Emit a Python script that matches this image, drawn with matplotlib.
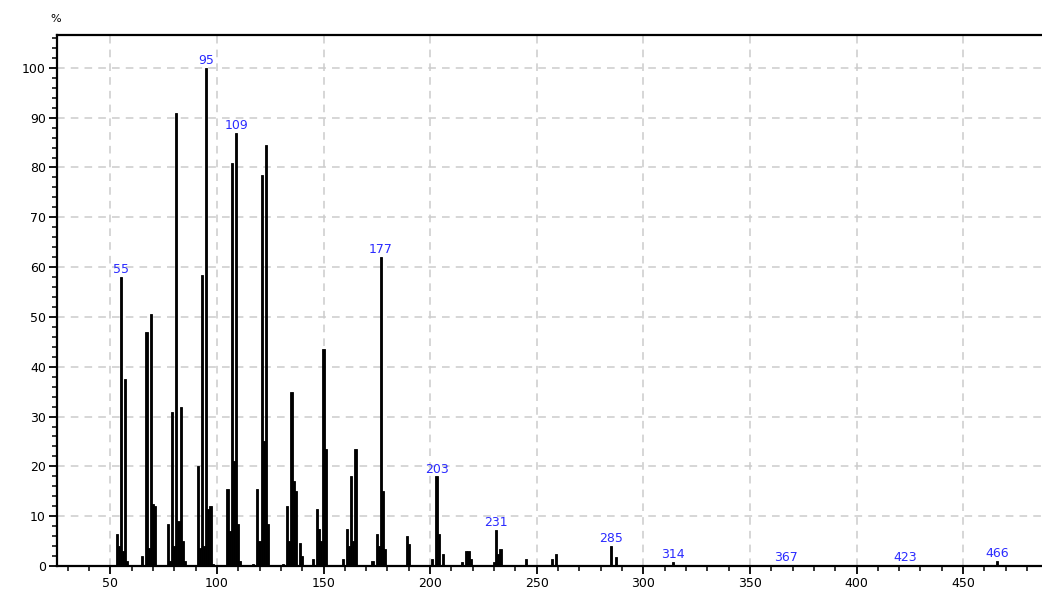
import matplotlib.pyplot as plt
from matplotlib.ticker import MultipleLocator

# m/z and relative intensity (%)
mz = [53, 54, 55, 56, 57, 58, 65, 67, 68, 69, 70, 71, 77, 78, 79, 80, 81, 82, 83, 84, 85,
      91, 92, 93, 94, 95, 96, 97, 98, 105, 106, 107, 108, 109, 110, 111, 117,
      119, 120, 121, 122, 123, 124, 131, 133, 134, 135, 136, 137, 139, 140, 145,
      147, 148, 149, 150, 151, 159, 161, 162, 163, 164, 165, 173, 175, 176, 177,
      178, 179, 189, 190, 201, 203, 204, 206, 215, 217, 218, 219, 230, 231, 232,
      233, 245, 257, 259, 285, 287, 314, 367, 423, 466]
intensity = [6.5, 4, 58, 3, 37.5, 1, 2, 47, 3.7, 50.5, 12.5, 12, 8.5, 1, 31, 4, 91, 9, 32, 5, 1,
             20, 3.7, 58.5, 4, 100, 11.5, 12, 0.5, 15.5, 7, 81, 21, 87, 8.5, 1, 0.5,
             15.5, 5, 78.5, 25, 84.5, 8.5, 0.5, 12, 5, 35, 17, 15, 4.6, 2, 1.5,
             11.5, 7.5, 5, 43.5, 23.5, 1.5, 7.5, 4, 18, 5, 23.5, 1, 6.5, 4, 62,
             15, 3.5, 6, 4.5, 1.5, 18, 6.5, 2.4, 0.8, 3, 3, 1.5, 0.8, 7.2, 2.4,
             3.4, 1.4, 1.4, 2.4, 4, 1.8, 0.8, 0.3, 0.3, 1.0]
label_mz = [55, 95, 109, 177, 203, 231, 285, 314, 367, 423, 466]

fig = plt.figure(figsize=(10.42, 6.01), dpi=100)
ax = fig.add_axes([0.0547, 0.0582, 0.9453, 0.8836])

ax.bar(mz, intensity, width=1.0, color='black', edgecolor='black', linewidth=0.6, zorder=3)

for m in label_mz:
    h = intensity[mz.index(m)]
    ax.annotate(str(m), (m, h), xytext=(0, 0.5), textcoords='offset points',
                ha='center', va='bottom', color='#2b2bff', fontsize=9, zorder=4)

ax.set_xlim(25, 487)
ax.set_ylim(0, 106.6)
ax.xaxis.set_major_locator(MultipleLocator(50))
ax.xaxis.set_minor_locator(MultipleLocator(10))
ax.yaxis.set_major_locator(MultipleLocator(10))
ax.yaxis.set_minor_locator(MultipleLocator(2))
ax.tick_params(which='major', length=6, width=1.3, labelsize=9, colors='black', pad=2)
ax.tick_params(which='minor', length=3.5, width=1.1)
ax.grid(True, which='major', color='#cccccc', linestyle=(0, (5, 4)), linewidth=1.1, zorder=0)

for s in ['left', 'bottom', 'top']:
    ax.spines[s].set_linewidth(1.6)
ax.spines['right'].set_visible(False)

fig.text(0.053, 0.968, '%', fontsize=8, ha='center', va='center')

plt.savefig('out.png', dpi=100)
